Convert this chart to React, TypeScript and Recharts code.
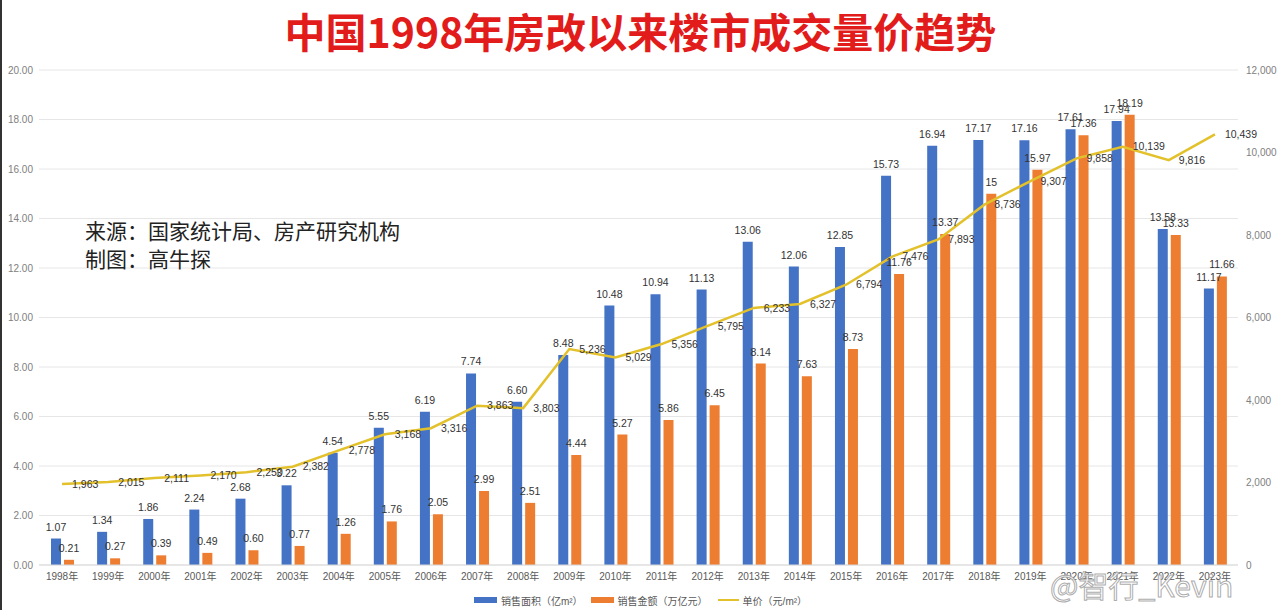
import React from 'react';
import { ComposedChart, Bar, Line, XAxis, YAxis, CartesianGrid, LabelList, Legend } from 'recharts';

const years = [
  '1998年', '1999年', '2000年', '2001年', '2002年', '2003年', '2004年', '2005年', '2006年',
  '2007年', '2008年', '2009年', '2010年', '2011年', '2012年', '2013年', '2014年', '2015年',
  '2016年', '2017年', '2018年', '2019年', '2020年', '2021年', '2022年', '2023年',
];
const areaValues = [
  1.07, 1.34, 1.86, 2.24, 2.68, 3.22, 4.54, 5.55, 6.19, 7.74, 6.6, 8.48, 10.48, 10.94, 11.13,
  13.06, 12.06, 12.85, 15.73, 16.94, 17.17, 17.16, 17.61, 17.94, 13.58, 11.17,
];
const amountValues = [
  0.21, 0.27, 0.39, 0.49, 0.6, 0.77, 1.26, 1.76, 2.05, 2.99, 2.51, 4.44, 5.27, 5.86, 6.45,
  8.14, 7.63, 8.73, 11.76, 13.37, 15, 15.97, 17.36, 18.19, 13.33, 11.66,
];
const priceValues = [
  1963, 2015, 2111, 2170, 2250, 2382, 2778, 3168, 3316, 3863, 3803, 5236, 5029, 5356, 5795,
  6233, 6327, 6794, 7476, 7893, 8736, 9307, 9858, 10139, 9816, 10439,
];
const leftTicks = [0, 2, 4, 6, 8, 10, 12, 14, 16, 18, 20];
const rightTicks = [0, 2000, 4000, 6000, 8000, 10000, 12000];
const seriesNames = ['销售面积（亿m²）', '销售金额（万亿元）', '单价（元/m²）'];

const data = years.map((year, i) => ({
  year,
  area: areaValues[i],
  amount: amountValues[i],
  price: priceValues[i],
}));

const FONT = '"Liberation Sans", Arial, "Noto Sans CJK SC", sans-serif';
const BLUE = '#4472C4';
const ORANGE = '#ED7D31';
const GOLD = '#E3C12B';

const fmt2 = (v: any) => Number(v).toFixed(2);
const fmtAmount = (v: any) => (Number.isInteger(Number(v)) ? String(v) : Number(v).toFixed(2));
const fmtPrice = (v: any) => Number(v).toLocaleString('en-US');

function LegendContent() {
  const textStyle: React.CSSProperties = { marginLeft: 4, whiteSpace: 'nowrap' };
  return (
    <div
      style={{
        display: 'flex',
        justifyContent: 'center',
        alignItems: 'center',
        fontSize: 10,
        color: '#595959',
        fontFamily: FONT,
        height: 20,
      }}
    >
      <span style={{ display: 'inline-block', width: 23, height: 6, background: BLUE }} />
      <span style={textStyle}>{seriesNames[0]}</span>
      <span style={{ display: 'inline-block', width: 23, height: 6, background: ORANGE, marginLeft: 8 }} />
      <span style={textStyle}>{seriesNames[1]}</span>
      <span style={{ display: 'inline-block', width: 21, height: 2, background: GOLD, marginLeft: 10 }} />
      <span style={textStyle}>{seriesNames[2]}</span>
    </div>
  );
}

export default function App() {
  return (
    <div
      style={{
        position: 'absolute',
        left: 0,
        top: 0,
        width: 1281,
        height: 610,
        background: '#fff',
        overflow: 'hidden',
        fontFamily: FONT,
      }}
    >
      <div style={{ position: 'absolute', left: 0, top: 0, width: 2, height: 610, background: '#333' }} />
      <div
        style={{
          position: 'absolute',
          left: 0,
          top: 4,
          width: 1281,
          textAlign: 'center',
          fontFamily: '"Noto Sans CJK SC", sans-serif',
          fontWeight: 700,
          fontSize: 41,
          color: '#E21B1B',
          lineHeight: '52px',
        }}
      >
        中国1998年房改以来楼市成交量价趋势
      </div>
      <ComposedChart
        width={1281}
        height={610}
        data={data}
        margin={{ top: 70, right: 0, bottom: 0, left: 0 }}
        barSize={10}
        barGap={3}
      >
        <CartesianGrid yAxisId="left" vertical={false} stroke="#E6E6E6" />
        <XAxis
          dataKey="year"
          interval={0}
          tickLine={false}
          axisLine={{ stroke: '#D9D9D9' }}
          tickSize={0}
          tickMargin={8}
          height={25}
          tick={{ fontSize: 10, fill: '#595959', fontFamily: FONT }}
        />
        <YAxis
          yAxisId="left"
          orientation="left"
          width={39}
          domain={[0, 20]}
          ticks={leftTicks}
          tickFormatter={fmt2}
          axisLine={false}
          tickLine={false}
          tickSize={0}
          tickMargin={6}
          tick={{ fontSize: 10, fill: '#808080', fontFamily: FONT }}
        />
        <YAxis
          yAxisId="right"
          orientation="right"
          width={43}
          domain={[0, 12000]}
          ticks={rightTicks}
          tickFormatter={fmtPrice}
          axisLine={false}
          tickLine={false}
          tickSize={0}
          tickMargin={8}
          tick={{ fontSize: 10, fill: '#808080', fontFamily: FONT }}
        />
        <Legend verticalAlign="bottom" height={20} content={<LegendContent />} />
        <Bar yAxisId="left" dataKey="area" name={seriesNames[0]} fill={BLUE} isAnimationActive={false}>
          <LabelList
            dataKey="area"
            position="top"
            offset={8}
            formatter={fmt2}
            style={{ fontSize: 10.5, fill: '#333', fontFamily: FONT }}
          />
        </Bar>
        <Bar yAxisId="left" dataKey="amount" name={seriesNames[1]} fill={ORANGE} isAnimationActive={false}>
          <LabelList
            dataKey="amount"
            position="top"
            offset={8}
            formatter={fmtAmount}
            style={{ fontSize: 10.5, fill: '#333', fontFamily: FONT }}
          />
        </Bar>
        <Line
          yAxisId="right"
          type="linear"
          dataKey="price"
          name={seriesNames[2]}
          stroke={GOLD}
          strokeWidth={2.5}
          dot={false}
          activeDot={false}
          isAnimationActive={false}
        >
          <LabelList
            dataKey="price"
            position="right"
            offset={10}
            formatter={fmtPrice}
            style={{ fontSize: 10.5, fill: '#333', fontFamily: FONT }}
          />
        </Line>
      </ComposedChart>
      <div
        style={{
          position: 'absolute',
          left: 85,
          top: 216,
          fontFamily: '"Noto Sans CJK SC", sans-serif',
          fontSize: 21,
          lineHeight: '28px',
          color: '#222',
        }}
      >
        <div>来源：国家统计局、房产研究机构</div>
        <div>制图：高牛探</div>
      </div>
      <div
        style={{
          position: 'absolute',
          left: 1050,
          top: 562,
          fontFamily: '"Noto Sans CJK SC", sans-serif',
          fontSize: 30,
          color: 'rgba(255,255,255,0.85)',
          WebkitTextStroke: '1px rgba(150,150,150,0.8)',
          whiteSpace: 'nowrap',
        }}
      >
        @智行_Kevin
      </div>
    </div>
  );
}
